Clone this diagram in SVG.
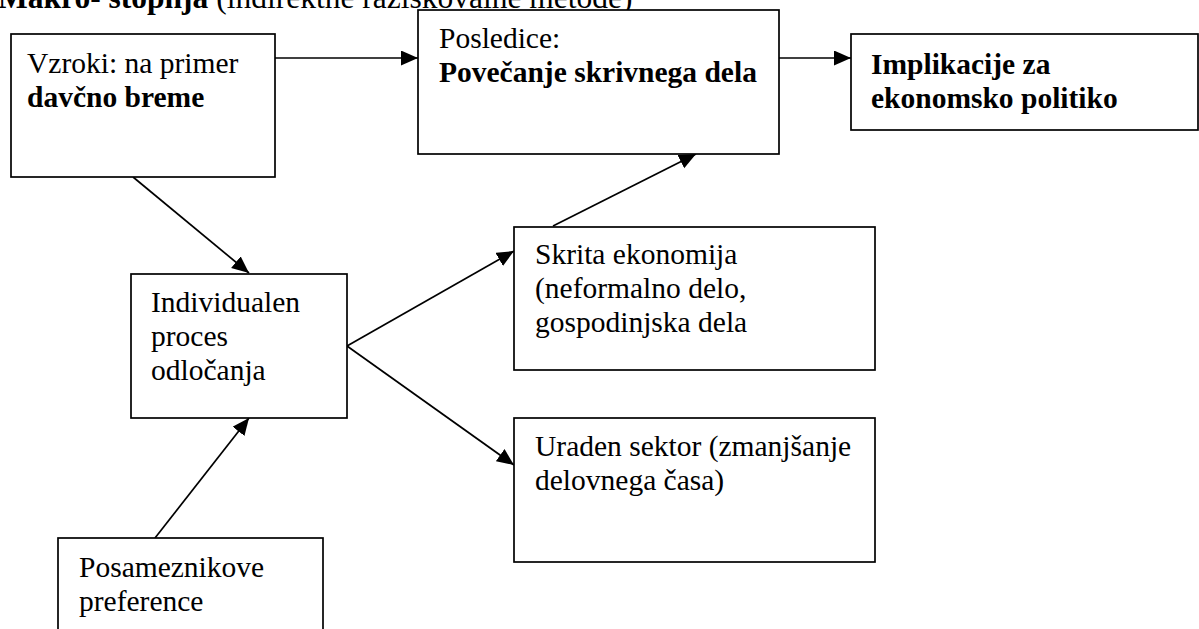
<svg xmlns="http://www.w3.org/2000/svg" width="1199" height="629" viewBox="0 0 1199 629">
  <style>
    .box { fill: #fff; stroke: #000; stroke-width: 1.7; }
    .t { font-family: "Liberation Serif", "Times New Roman", serif; font-size: 29.5px; fill: #000; }
    .title { font-size: 31.5px; }
    .b { font-weight: bold; }
    .edge { stroke: #000; stroke-width: 1.7; fill: none; marker-end: url(#arrow); }
  </style>
  <defs>
    <marker id="arrow" markerUnits="userSpaceOnUse" markerWidth="18" markerHeight="16" refX="17" refY="7.5" orient="auto">
      <path d="M0,0 L17,7.5 L0,15 z" fill="#000"/>
    </marker>
  </defs>

  <rect width="1199" height="629" fill="#fff"/>

  <!-- heading, partly cut at the top edge -->
  <text class="t title" x="-2" y="7.5"><tspan class="b">Makro- stopnja</tspan> (indirektne raziskovalne metode)</text>

  <g id="connectors">
    <line class="edge" x1="275" y1="58" x2="418" y2="58"/>
    <line class="edge" x1="779" y1="58" x2="851" y2="58"/>
    <line class="edge" x1="133" y1="177" x2="249" y2="273"/>
    <line class="edge" x1="347" y1="346" x2="514" y2="251"/>
    <line class="edge" x1="347" y1="346" x2="514" y2="465"/>
    <line class="edge" x1="155" y1="538" x2="249" y2="418"/>
    <line class="edge" x1="553" y1="226" x2="696" y2="154"/>
  </g>

  <g id="vzroki">
    <rect class="box" x="11" y="34" width="264" height="143"/>
    <text class="t" x="27" y="73">Vzroki: na primer</text>
    <text class="t b" x="27" y="107">davčno breme</text>
  </g>

  <g id="posledice">
    <rect class="box" x="418" y="10" width="361" height="144"/>
    <text class="t" x="439" y="48">Posledice:</text>
    <text class="t b" x="439" y="82">Povečanje skrivnega dela</text>
  </g>

  <g id="implikacije">
    <rect class="box" x="851" y="34" width="347" height="96"/>
    <text class="t b" x="871" y="74">Implikacije za</text>
    <text class="t b" x="871" y="108">ekonomsko politiko</text>
  </g>

  <g id="individualen">
    <rect class="box" x="131" y="274" width="216" height="144"/>
    <text class="t" x="151" y="312">Individualen</text>
    <text class="t" x="151" y="346">proces</text>
    <text class="t" x="151" y="380">odločanja</text>
  </g>

  <g id="skrita">
    <rect class="box" x="514" y="227" width="361" height="143"/>
    <text class="t" x="535" y="264">Skrita ekonomija</text>
    <text class="t" x="535" y="298">(neformalno delo,</text>
    <text class="t" x="535" y="332">gospodinjska dela</text>
  </g>

  <g id="uraden">
    <rect class="box" x="514" y="418" width="361" height="144"/>
    <text class="t" x="535" y="456">Uraden sektor (zmanjšanje</text>
    <text class="t" x="535" y="490">delovnega časa)</text>
  </g>

  <g id="preference">
    <rect class="box" x="58" y="538" width="265" height="110"/>
    <text class="t" x="79" y="577">Posameznikove</text>
    <text class="t" x="79" y="611">preference</text>
  </g>
</svg>
